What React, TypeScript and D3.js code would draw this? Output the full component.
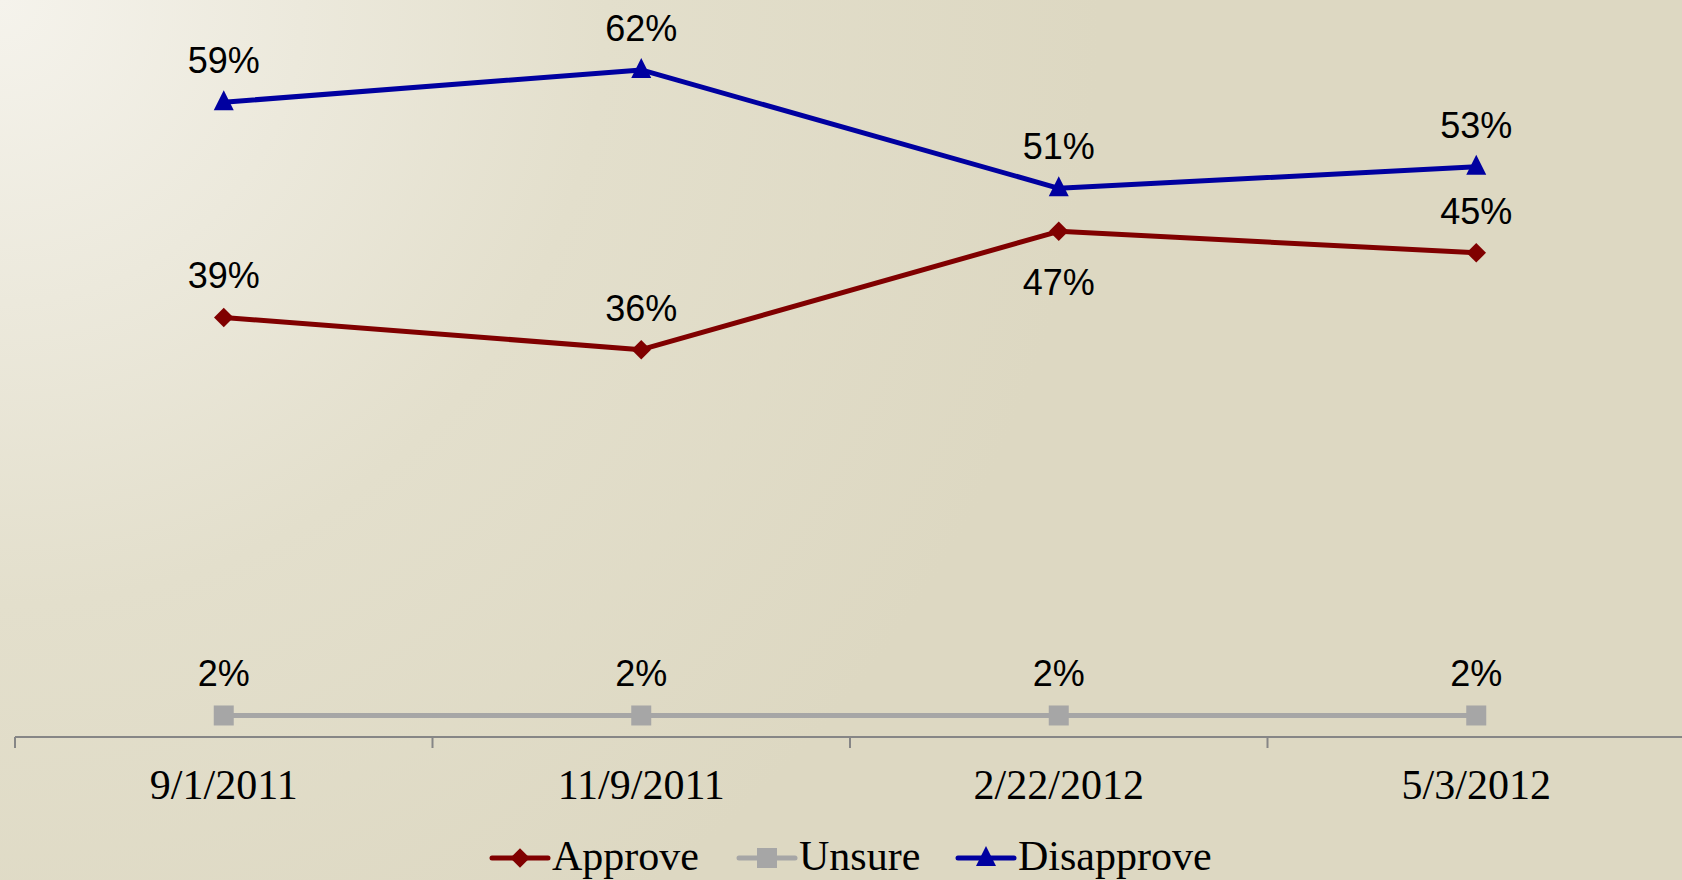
import React, { useEffect, useRef } from "react";
import * as d3 from "d3";

const dates = ["9/1/2011", "11/9/2011", "2/22/2012", "5/3/2012"];
const approve = [39, 36, 47, 45];
const unsure = [2, 2, 2, 2];
const disapprove = [59, 62, 51, 53];

const seriesNames = ["Approve", "Unsure", "Disapprove"];
const seriesColors = ["#800000", "#a6a6a6", "#0000a0"];
const seriesMarkers = ["diamond", "square", "triangle"];
// label above (-1) or below (+1) each point
const approveLabelSide = [-1, -1, 1, -1];

export default function App() {
  const svgRef = useRef<SVGSVGElement>(null);

  useEffect(() => {
    const W = 1682;
    const H = 880;
    const svg = d3.select(svgRef.current).attr("width", W).attr("height", H);
    svg.selectAll("*").remove();

    // background gradient
    const defs = svg.append("defs");
    const grad = defs
      .append("radialGradient")
      .attr("id", "bg")
      .attr("gradientUnits", "userSpaceOnUse")
      .attr("cx", 0)
      .attr("cy", 0)
      .attr("r", 1100);
    grad.append("stop").attr("offset", "0%").attr("stop-color", "#f5f3ec");
    grad.append("stop").attr("offset", "55%").attr("stop-color", "#e3dfcc");
    grad.append("stop").attr("offset", "100%").attr("stop-color", "#ddd8c2");
    svg.append("rect").attr("width", W).attr("height", H).attr("fill", "url(#bg)");

    const x = d3.scaleBand().domain(dates).range([15, 1685]).padding(0);
    const y = d3.scaleLinear().domain([0, 68.5]).range([737, 0]);
    const cx = (d: string) => (x(d) as number) + x.bandwidth() / 2;

    // x axis
    const axisY = y(0);
    svg
      .append("line")
      .attr("x1", 15)
      .attr("x2", W)
      .attr("y1", axisY)
      .attr("y2", axisY)
      .attr("stroke", "#868686")
      .attr("stroke-width", 2);
    svg
      .selectAll(".tick-mark")
      .data(dates)
      .enter()
      .append("line")
      .attr("x1", (d) => x(d) as number)
      .attr("x2", (d) => x(d) as number)
      .attr("y1", axisY)
      .attr("y2", axisY + 11)
      .attr("stroke", "#868686")
      .attr("stroke-width", 2);

    svg
      .selectAll(".xlab")
      .data(dates)
      .enter()
      .append("text")
      .attr("x", (d) => cx(d))
      .attr("y", 799)
      .attr("text-anchor", "middle")
      .style("font-family", "'Liberation Serif', 'Times New Roman', serif")
      .style("font-size", "42px")
      .attr("fill", "#000")
      .text((d) => d);

    const allSeries = [approve, unsure, disapprove];

    const markerPath = (kind: string, size: number) => {
      if (kind === "diamond") return d3.symbol(d3.symbolDiamond2, size * size * 0.5)();
      if (kind === "square") return d3.symbol(d3.symbolSquare, size * size)();
      return `M0,${-size * 0.6}L${size / 2},${size * 0.4}L${-size / 2},${size * 0.4}Z`;
    };

    allSeries.forEach((vals, si) => {
      const pts = vals.map((v, i) => ({ date: dates[i], v, i }));
      const line = d3
        .line<{ date: string; v: number }>()
        .x((d) => cx(d.date))
        .y((d) => y(d.v));
      svg
        .append("path")
        .datum(pts)
        .attr("d", line)
        .attr("fill", "none")
        .attr("stroke", seriesColors[si])
        .attr("stroke-width", 5)
        .attr("stroke-linejoin", "round");

      svg
        .selectAll(`.m${si}`)
        .data(pts)
        .enter()
        .append("path")
        .attr("transform", (d) => `translate(${cx(d.date)},${y(d.v)})`)
        .attr("d", markerPath(seriesMarkers[si], si === 0 ? 22 : 20) as string)
        .attr("fill", seriesColors[si]);

      svg
        .selectAll(`.l${si}`)
        .data(pts)
        .enter()
        .append("text")
        .attr("x", (d) => cx(d.date))
        .attr("y", (d) => {
          const side = si === 0 ? approveLabelSide[d.i] : -1;
          return side < 0 ? y(d.v) - 29 : y(d.v) + 64;
        })
        .attr("text-anchor", "middle")
        .style("font-family", "'Liberation Sans', Arial, sans-serif")
        .style("font-size", "36px")
        .attr("fill", "#000")
        .text((d) => `${d.v}%`);
    });

    // legend
    const legendX = [492, 739, 958];
    const legendY = 858;
    const legend = svg
      .selectAll(".legend")
      .data(seriesNames)
      .enter()
      .append("g")
      .attr("transform", (d, i) => `translate(${legendX[i]},${legendY})`);
    legend
      .append("line")
      .attr("x1", 0)
      .attr("x2", 56)
      .attr("stroke", (d, i) => seriesColors[i])
      .attr("stroke-width", 5)
      .attr("stroke-linecap", "round");
    legend
      .append("path")
      .attr("transform", "translate(28,0)")
      .attr("d", (d, i) => markerPath(seriesMarkers[i], i === 0 ? 22 : 20) as string)
      .attr("fill", (d, i) => seriesColors[i]);
    legend
      .append("text")
      .attr("x", 60)
      .attr("y", 12)
      .style("font-family", "'Liberation Serif', 'Times New Roman', serif")
      .style("font-size", "42px")
      .attr("fill", "#000")
      .text((d) => d);
  }, []);

  return (
    <div style={{ position: "absolute", left: 0, top: 0 }}>
      <svg ref={svgRef} style={{ display: "block" }}></svg>
    </div>
  );
}
